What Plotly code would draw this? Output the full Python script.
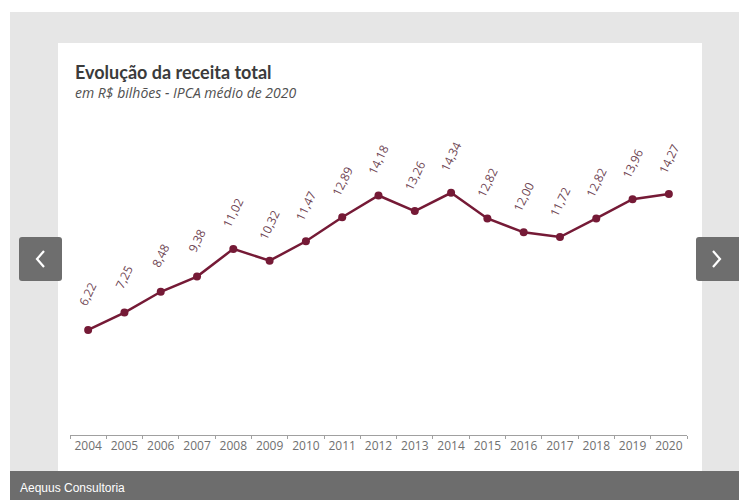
import plotly.graph_objects as go

years = [str(y) for y in range(2004, 2021)]
receita = [6.22, 7.25, 8.48, 9.38, 11.02, 10.32, 11.47, 12.89, 14.18, 13.26,
           14.34, 12.82, 12.00, 11.72, 12.82, 13.96, 14.27]
labels = [f"{v:.2f}".replace(".", ",") for v in receita]

W, H = 739, 500
LINE = "#751a36"
LABEL = "#6e4452"


def px(x):
    return x / W


def py(y):
    return 1 - y / H


def rect(x0, y0, x1, y1, color, layer="below"):
    return dict(type="rect", xref="paper", yref="paper",
                x0=px(x0), x1=px(x1), y0=py(y1), y1=py(y0),
                fillcolor=color, line=dict(width=0), layer=layer)


def rounded(x0, y0, x1, y1, r, color):
    path = (f"M {px(x0+r)},{py(y0)} L {px(x1-r)},{py(y0)} "
            f"Q {px(x1)},{py(y0)} {px(x1)},{py(y0+r)} "
            f"L {px(x1)},{py(y1-r)} Q {px(x1)},{py(y1)} {px(x1-r)},{py(y1)} "
            f"L {px(x0+r)},{py(y1)} Q {px(x0)},{py(y1)} {px(x0)},{py(y1-r)} "
            f"L {px(x0)},{py(y0+r)} Q {px(x0)},{py(y0)} {px(x0+r)},{py(y0)} Z")
    return dict(type="path", xref="paper", yref="paper", path=path,
                fillcolor=color, line=dict(width=0), layer="above")


def polyline(points, color, width):
    path = "M " + " L ".join(f"{px(x)},{py(y)}" for x, y in points)
    return dict(type="path", xref="paper", yref="paper", path=path,
                line=dict(color=color, width=width), layer="above")


fig = go.Figure()
fig.add_trace(go.Scatter(
    x=years, y=receita, mode="lines+markers",
    line=dict(color=LINE, width=2.5),
    marker=dict(color=LINE, size=8),
    hoverinfo="skip", showlegend=False,
))

annotations = []
for i, (v, t) in enumerate(zip(receita, labels)):
    annotations.append(dict(
        x=i, y=v, xref="x", yref="y", text=t, showarrow=False,
        textangle=-64, yshift=36, xanchor="center", yanchor="middle",
        font=dict(family="Open Sans", size=12, color=LABEL),
    ))

annotations += [
    dict(x=px(73), y=py(72), xref="paper", yref="paper", text="<b>Evolução da receita total</b>",
         showarrow=False, xanchor="left", yanchor="middle",
         font=dict(family="Lato", size=18, color="#3b3b3b")),
    dict(x=px(73), y=py(93), xref="paper", yref="paper", text="<i>em R$ bilhões - IPCA médio de 2020</i>",
         showarrow=False, xanchor="left", yanchor="middle",
         font=dict(family="Open Sans", size=14, color="#505050")),
    dict(x=px(18), y=py(488), xref="paper", yref="paper", text="Aequus Consultoria",
         showarrow=False, xanchor="left", yanchor="middle",
         font=dict(family="Liberation Sans, Arial", size=12, color="#ffffff")),
]

shapes = [
    rect(10, 12, 739, 472, "#e6e6e6"),
    rect(58, 43, 702, 472, "#ffffff"),
    rect(10, 471, 739, 500, "#6d6d6d", layer="above"),
    rounded(19, 237, 62, 281, 3, "#6e6e6e"),
    rounded(696, 237, 745, 281, 3, "#6e6e6e"),
    polyline([(44, 251), (37, 259), (44, 267)], "#ffffff", 2.2),
    polyline([(713, 251), (720, 259), (713, 267)], "#ffffff", 2.2),
]

fig.update_layout(
    width=W, height=H,
    margin=dict(l=0, r=0, t=0, b=0),
    paper_bgcolor="#ffffff",
    plot_bgcolor="rgba(0,0,0,0)",
    shapes=shapes,
    annotations=annotations,
    xaxis=dict(
        domain=[px(70), px(687)],
        type="category", range=[-0.5, 16.5],
        showgrid=False, zeroline=False,
        showline=True, linecolor="#a0a0a0", linewidth=1,
        ticks="outside", tickson="boundaries", ticklen=3, tickcolor="#a0a0a0",
        tickangle=0, automargin=False,
        tickfont=dict(family="Open Sans", size=12, color="#707070"),
        fixedrange=True,
    ),
    yaxis=dict(
        domain=[py(435), py(131)],
        range=[0, 18],
        visible=False, showgrid=False, zeroline=False,
        fixedrange=True,
    ),
)

fig.write_html("out.html")
